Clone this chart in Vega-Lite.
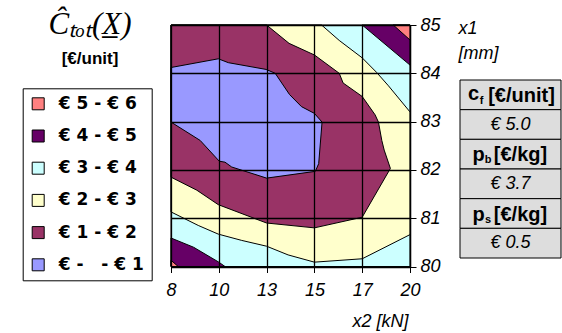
{
  "$schema": "https://vega.github.io/schema/vega-lite/v6.json",
  "width": 239,
  "height": 241.5,
  "autosize": {"type": "none"},
  "padding": {"left": 171, "top": 25, "right": 152, "bottom": 66.5},
  "background": "white",
  "config": {"view": {"stroke": null}},
  "title": {
    "text": "Ĉₜₒₜ(X̲)",
    "subtitle": "[\u20ac/unit]",
    "anchor": "start",
    "frame": "group",
    "align": "center",
    "dx": -81,
    "dy": 52,
    "offset": 0,
    "font": "Liberation Serif",
    "fontStyle": "italic",
    "fontWeight": "normal",
    "fontSize": 31,
    "color": "black",
    "subtitleFont": "Liberation Sans",
    "subtitleFontWeight": "bold",
    "subtitleFontSize": 17,
    "subtitleColor": "black",
    "subtitlePadding": 10
  },
  "datasets": {
    "poly": [
      {"poly": "base", "band": "\u20ac 3 - \u20ac 4", "i": 0, "x": 0, "y": 80},
      {"poly": "base", "band": "\u20ac 3 - \u20ac 4", "i": 1, "x": 5, "y": 80},
      {"poly": "base", "band": "\u20ac 3 - \u20ac 4", "i": 2, "x": 5, "y": 85},
      {"poly": "base", "band": "\u20ac 3 - \u20ac 4", "i": 3, "x": 0, "y": 85},
      {"poly": "base", "band": "\u20ac 3 - \u20ac 4", "i": 4, "x": 0, "y": 80},

      {"poly": "tr4", "band": "\u20ac 4 - \u20ac 5", "i": 0, "x": 4.0, "y": 85},
      {"poly": "tr4", "band": "\u20ac 4 - \u20ac 5", "i": 1, "x": 5, "y": 85},
      {"poly": "tr4", "band": "\u20ac 4 - \u20ac 5", "i": 2, "x": 5, "y": 84.17},
      {"poly": "tr4", "band": "\u20ac 4 - \u20ac 5", "i": 3, "x": 4.0, "y": 85},

      {"poly": "tr5", "band": "\u20ac 5 - \u20ac 6", "i": 0, "x": 4.65, "y": 85},
      {"poly": "tr5", "band": "\u20ac 5 - \u20ac 6", "i": 1, "x": 5, "y": 85},
      {"poly": "tr5", "band": "\u20ac 5 - \u20ac 6", "i": 2, "x": 5, "y": 84.69},
      {"poly": "tr5", "band": "\u20ac 5 - \u20ac 6", "i": 3, "x": 4.65, "y": 85},

      {"poly": "bl4", "band": "\u20ac 4 - \u20ac 5", "i": 0, "x": 0, "y": 80},
      {"poly": "bl4", "band": "\u20ac 4 - \u20ac 5", "i": 1, "x": 0, "y": 80.59},
      {"poly": "bl4", "band": "\u20ac 4 - \u20ac 5", "i": 2, "x": 0.47, "y": 80.4},
      {"poly": "bl4", "band": "\u20ac 4 - \u20ac 5", "i": 3, "x": 1.0, "y": 80.09},
      {"poly": "bl4", "band": "\u20ac 4 - \u20ac 5", "i": 4, "x": 1.13, "y": 80},
      {"poly": "bl4", "band": "\u20ac 4 - \u20ac 5", "i": 5, "x": 0, "y": 80},

      {"poly": "bl5", "band": "\u20ac 5 - \u20ac 6", "i": 0, "x": 0, "y": 80},
      {"poly": "bl5", "band": "\u20ac 5 - \u20ac 6", "i": 1, "x": 0, "y": 80.13},
      {"poly": "bl5", "band": "\u20ac 5 - \u20ac 6", "i": 2, "x": 0.15, "y": 80},
      {"poly": "bl5", "band": "\u20ac 5 - \u20ac 6", "i": 3, "x": 0, "y": 80},

      {"poly": "y", "band": "\u20ac 2 - \u20ac 3", "i": 0, "x": 0, "y": 85},
      {"poly": "y", "band": "\u20ac 2 - \u20ac 3", "i": 1, "x": 3.15, "y": 85},
      {"poly": "y", "band": "\u20ac 2 - \u20ac 3", "i": 2, "x": 3.52, "y": 84.68},
      {"poly": "y", "band": "\u20ac 2 - \u20ac 3", "i": 3, "x": 4.0, "y": 84.32},
      {"poly": "y", "band": "\u20ac 2 - \u20ac 3", "i": 4, "x": 4.3, "y": 84.02},
      {"poly": "y", "band": "\u20ac 2 - \u20ac 3", "i": 5, "x": 4.55, "y": 83.74},
      {"poly": "y", "band": "\u20ac 2 - \u20ac 3", "i": 6, "x": 5, "y": 83.2},
      {"poly": "y", "band": "\u20ac 2 - \u20ac 3", "i": 7, "x": 5, "y": 80.66},
      {"poly": "y", "band": "\u20ac 2 - \u20ac 3", "i": 8, "x": 4.0, "y": 80.16},
      {"poly": "y", "band": "\u20ac 2 - \u20ac 3", "i": 9, "x": 3.0, "y": 80.09},
      {"poly": "y", "band": "\u20ac 2 - \u20ac 3", "i": 10, "x": 2.45, "y": 80.24},
      {"poly": "y", "band": "\u20ac 2 - \u20ac 3", "i": 11, "x": 2.0, "y": 80.42},
      {"poly": "y", "band": "\u20ac 2 - \u20ac 3", "i": 12, "x": 1.48, "y": 80.54},
      {"poly": "y", "band": "\u20ac 2 - \u20ac 3", "i": 13, "x": 0.99, "y": 80.67},
      {"poly": "y", "band": "\u20ac 2 - \u20ac 3", "i": 14, "x": 0.57, "y": 80.85},
      {"poly": "y", "band": "\u20ac 2 - \u20ac 3", "i": 15, "x": 0, "y": 81.13},
      {"poly": "y", "band": "\u20ac 2 - \u20ac 3", "i": 16, "x": 0, "y": 85},

      {"poly": "m", "band": "\u20ac 1 - \u20ac 2", "i": 0, "x": 0, "y": 85},
      {"poly": "m", "band": "\u20ac 1 - \u20ac 2", "i": 1, "x": 2.0, "y": 85},
      {"poly": "m", "band": "\u20ac 1 - \u20ac 2", "i": 2, "x": 2.47, "y": 84.62},
      {"poly": "m", "band": "\u20ac 1 - \u20ac 2", "i": 3, "x": 2.91, "y": 84.42},
      {"poly": "m", "band": "\u20ac 1 - \u20ac 2", "i": 4, "x": 3.0, "y": 84.38},
      {"poly": "m", "band": "\u20ac 1 - \u20ac 2", "i": 5, "x": 3.52, "y": 84.0},
      {"poly": "m", "band": "\u20ac 1 - \u20ac 2", "i": 6, "x": 3.6, "y": 83.8},
      {"poly": "m", "band": "\u20ac 1 - \u20ac 2", "i": 7, "x": 4.0, "y": 83.52},
      {"poly": "m", "band": "\u20ac 1 - \u20ac 2", "i": 8, "x": 4.27, "y": 83.14},
      {"poly": "m", "band": "\u20ac 1 - \u20ac 2", "i": 9, "x": 4.34, "y": 82.99},
      {"poly": "m", "band": "\u20ac 1 - \u20ac 2", "i": 10, "x": 4.41, "y": 82.61},
      {"poly": "m", "band": "\u20ac 1 - \u20ac 2", "i": 11, "x": 4.46, "y": 82.41},
      {"poly": "m", "band": "\u20ac 1 - \u20ac 2", "i": 12, "x": 4.59, "y": 82.03},
      {"poly": "m", "band": "\u20ac 1 - \u20ac 2", "i": 13, "x": 4.0, "y": 81.02},
      {"poly": "m", "band": "\u20ac 1 - \u20ac 2", "i": 14, "x": 3.0, "y": 80.8},
      {"poly": "m", "band": "\u20ac 1 - \u20ac 2", "i": 15, "x": 2.0, "y": 80.9},
      {"poly": "m", "band": "\u20ac 1 - \u20ac 2", "i": 16, "x": 0.99, "y": 81.28},
      {"poly": "m", "band": "\u20ac 1 - \u20ac 2", "i": 17, "x": 0.54, "y": 81.58},
      {"poly": "m", "band": "\u20ac 1 - \u20ac 2", "i": 18, "x": 0, "y": 81.85},
      {"poly": "m", "band": "\u20ac 1 - \u20ac 2", "i": 19, "x": 0, "y": 85},

      {"poly": "b", "band": "\u20ac -\u00a0\u00a0\u00a0- \u20ac 1", "i": 0, "x": 0, "y": 84.12},
      {"poly": "b", "band": "\u20ac -\u00a0\u00a0\u00a0- \u20ac 1", "i": 1, "x": 0.99, "y": 84.3},
      {"poly": "b", "band": "\u20ac -\u00a0\u00a0\u00a0- \u20ac 1", "i": 2, "x": 1.2, "y": 84.22},
      {"poly": "b", "band": "\u20ac -\u00a0\u00a0\u00a0- \u20ac 1", "i": 3, "x": 1.99, "y": 84.08},
      {"poly": "b", "band": "\u20ac -\u00a0\u00a0\u00a0- \u20ac 1", "i": 4, "x": 2.18, "y": 84.0},
      {"poly": "b", "band": "\u20ac -\u00a0\u00a0\u00a0- \u20ac 1", "i": 5, "x": 2.48, "y": 83.56},
      {"poly": "b", "band": "\u20ac -\u00a0\u00a0\u00a0- \u20ac 1", "i": 6, "x": 2.73, "y": 83.31},
      {"poly": "b", "band": "\u20ac -\u00a0\u00a0\u00a0- \u20ac 1", "i": 7, "x": 3.0, "y": 83.17},
      {"poly": "b", "band": "\u20ac -\u00a0\u00a0\u00a0- \u20ac 1", "i": 8, "x": 3.16, "y": 82.99},
      {"poly": "b", "band": "\u20ac -\u00a0\u00a0\u00a0- \u20ac 1", "i": 9, "x": 3.09, "y": 82.13},
      {"poly": "b", "band": "\u20ac -\u00a0\u00a0\u00a0- \u20ac 1", "i": 10, "x": 3.02, "y": 81.97},
      {"poly": "b", "band": "\u20ac -\u00a0\u00a0\u00a0- \u20ac 1", "i": 11, "x": 2.0, "y": 81.83},
      {"poly": "b", "band": "\u20ac -\u00a0\u00a0\u00a0- \u20ac 1", "i": 12, "x": 1.27, "y": 82.06},
      {"poly": "b", "band": "\u20ac -\u00a0\u00a0\u00a0- \u20ac 1", "i": 13, "x": 1.13, "y": 82.16},
      {"poly": "b", "band": "\u20ac -\u00a0\u00a0\u00a0- \u20ac 1", "i": 14, "x": 1.01, "y": 82.18},
      {"poly": "b", "band": "\u20ac -\u00a0\u00a0\u00a0- \u20ac 1", "i": 15, "x": 0.61, "y": 82.61},
      {"poly": "b", "band": "\u20ac -\u00a0\u00a0\u00a0- \u20ac 1", "i": 16, "x": 0, "y": 82.99},
      {"poly": "b", "band": "\u20ac -\u00a0\u00a0\u00a0- \u20ac 1", "i": 17, "x": 0, "y": 84.12}
    ],
    "table": [
      {"col": "t", "row": "h1", "kind": "head", "sym": "c", "sub": "f", "unit": "[\u20ac/unit]", "label": ""},
      {"col": "t", "row": "v1", "kind": "val", "sym": "", "sub": "", "unit": "", "label": "\u20ac 5.0"},
      {"col": "t", "row": "h2", "kind": "head", "sym": "p", "sub": "b", "unit": "[\u20ac/kg]", "label": ""},
      {"col": "t", "row": "v2", "kind": "val", "sym": "", "sub": "", "unit": "", "label": "\u20ac 3.7"},
      {"col": "t", "row": "h3", "kind": "head", "sym": "p", "sub": "s", "unit": "[\u20ac/kg]", "label": ""},
      {"col": "t", "row": "v3", "kind": "val", "sym": "", "sub": "", "unit": "", "label": "\u20ac 0.5"}
    ]
  },
  "layer": [
    {
      "data": {"name": "poly"},
      "encoding": {
        "x": {
          "field": "x", "type": "quantitative",
          "scale": {"domain": [0, 5], "nice": false, "zero": false},
          "axis": {
            "values": [0, 1, 2, 3, 4, 5],
            "labelExpr": "['8','10','13','15','17','20'][datum.value]",
            "grid": true, "gridColor": "black", "gridOpacity": 1, "gridWidth": 1.3,
            "domainColor": "black", "domainWidth": 1.3,
            "tickColor": "black", "tickSize": 6, "tickWidth": 1,
            "labelFont": "Liberation Sans", "labelFontStyle": "italic", "labelFontSize": 18,
            "labelColor": "black", "labelPadding": 9, "labelFlush": false, "labelOverlap": false,
            "title": "x2 [kN]", "titleFont": "Liberation Sans", "titleFontStyle": "italic",
            "titleFontWeight": "normal", "titleFontSize": 18, "titleColor": "black",
            "titleAnchor": "end", "titleAlign": "right", "titleBaseline": "alphabetic",
            "titleX": 237, "titleY": 60,
            "zindex": 1
          }
        },
        "y": {
          "field": "y", "type": "quantitative",
          "scale": {"domain": [80, 85], "nice": false, "zero": false},
          "axis": {
            "orient": "right",
            "values": [80, 81, 82, 83, 84, 85], "format": "d",
            "grid": true, "gridColor": "black", "gridOpacity": 1, "gridWidth": 1.3,
            "domainColor": "black", "domainWidth": 1.3,
            "tickColor": "black", "tickSize": 6, "tickWidth": 1,
            "labelFont": "Liberation Sans", "labelFontStyle": "italic", "labelFontSize": 18,
            "labelColor": "black", "labelPadding": 4, "labelFlush": false, "labelOverlap": false,
            "title": ["x1", "[mm]"], "titleFont": "Liberation Sans", "titleFontStyle": "italic",
            "titleFontWeight": "normal", "titleFontSize": 18, "titleColor": "black",
            "titleAngle": 0, "titleAlign": "left", "titleBaseline": "alphabetic",
            "titleX": 48, "titleY": 8.5, "titleLineHeight": 24.5,
            "zindex": 1
          }
        },
        "order": {"field": "i", "type": "quantitative"},
        "fill": {
          "field": "band", "type": "nominal",
          "scale": {
            "domain": ["\u20ac 5 - \u20ac 6", "\u20ac 4 - \u20ac 5", "\u20ac 3 - \u20ac 4", "\u20ac 2 - \u20ac 3", "\u20ac 1 - \u20ac 2", "\u20ac -\u00a0\u00a0\u00a0- \u20ac 1"],
            "range": ["#FF8080", "#660066", "#CCFFFF", "#FFFFCC", "#993366", "#9999FF"]
          },
          "legend": {
            "orient": "none", "legendX": -148.3, "legendY": 63.3,
            "title": null, "symbolType": "square", "symbolSize": 144,
            "symbolStrokeColor": "black", "symbolStrokeWidth": 1, "symbolOpacity": 1,
            "labelFont": "DejaVu Sans", "labelFontWeight": "bold", "labelFontSize": 17,
            "labelColor": "black", "labelOffset": 12, "rowPadding": 14.2,
            "padding": 7, "strokeColor": "black", "fillColor": "white"
          }
        }
      },
      "layer": [
        {"transform": [{"filter": "datum.poly == 'base'"}], "mark": {"type": "line", "filled": true, "stroke": "black", "strokeWidth": 1}},
        {"transform": [{"filter": "datum.poly == 'tr4'"}], "mark": {"type": "line", "filled": true, "stroke": "black", "strokeWidth": 1}},
        {"transform": [{"filter": "datum.poly == 'tr5'"}], "mark": {"type": "line", "filled": true, "stroke": "black", "strokeWidth": 1}},
        {"transform": [{"filter": "datum.poly == 'bl4'"}], "mark": {"type": "line", "filled": true, "stroke": "black", "strokeWidth": 1}},
        {"transform": [{"filter": "datum.poly == 'bl5'"}], "mark": {"type": "line", "filled": true, "stroke": "black", "strokeWidth": 1}},
        {"transform": [{"filter": "datum.poly == 'y'"}], "mark": {"type": "line", "filled": true, "stroke": "black", "strokeWidth": 1}},
        {"transform": [{"filter": "datum.poly == 'm'"}], "mark": {"type": "line", "filled": true, "stroke": "black", "strokeWidth": 1}},
        {"transform": [{"filter": "datum.poly == 'b'"}], "mark": {"type": "line", "filled": true, "stroke": "black", "strokeWidth": 1}}
      ]
    },
    {
      "data": {"name": "table"},
      "encoding": {
        "x": {"field": "col", "type": "nominal", "scale": {"range": [289, 390], "paddingInner": 0, "paddingOuter": 0}, "axis": null},
        "y": {"field": "row", "type": "nominal", "sort": null, "scale": {"domain": ["h1", "v1", "h2", "v2", "h3", "v3"], "range": [55, 233], "paddingInner": 0, "paddingOuter": 0}, "axis": null}
      },
      "layer": [
        {"mark": {"type": "rect", "fill": "#DDDDDD", "stroke": "black", "strokeWidth": 1}},
        {"transform": [{"filter": "datum.row == 'h1'"}], "mark": {"type": "text", "font": "Liberation Sans", "fontWeight": "bold", "fontSize": 20, "fill": "black", "align": "center", "dx": -37, "dy": -1}, "encoding": {"text": {"field": "sym"}}},
        {"transform": [{"filter": "datum.row == 'h2' || datum.row == 'h3'"}], "mark": {"type": "text", "font": "Liberation Sans", "fontWeight": "bold", "fontSize": 20, "fill": "black", "align": "center", "dx": -32, "dy": 1}, "encoding": {"text": {"field": "sym"}}},
        {"transform": [{"filter": "datum.row == 'h1'"}], "mark": {"type": "text", "font": "Liberation Sans", "fontWeight": "bold", "fontSize": 11, "fill": "black", "align": "center", "dx": -29, "dy": 6}, "encoding": {"text": {"field": "sub"}}},
        {"transform": [{"filter": "datum.row == 'h2' || datum.row == 'h3'"}], "mark": {"type": "text", "font": "Liberation Sans", "fontWeight": "bold", "fontSize": 11, "fill": "black", "align": "center", "dx": -22.5, "dy": 6}, "encoding": {"text": {"field": "sub"}}},
        {"transform": [{"filter": "datum.row == 'h1'"}], "mark": {"type": "text", "font": "Liberation Sans", "fontWeight": "bold", "fontSize": 20, "fill": "black", "align": "center", "dx": 11, "dy": 1}, "encoding": {"text": {"field": "unit"}}},
        {"transform": [{"filter": "datum.row == 'h2' || datum.row == 'h3'"}], "mark": {"type": "text", "font": "Liberation Sans", "fontWeight": "bold", "fontSize": 20, "fill": "black", "align": "center", "dx": 10, "dy": 1}, "encoding": {"text": {"field": "unit"}}},
        {"transform": [{"filter": "datum.kind == 'val'"}], "mark": {"type": "text", "font": "Liberation Sans", "fontStyle": "italic", "fontSize": 18, "fill": "black"}, "encoding": {"text": {"field": "label"}}}
      ]
    }
  ],
  "resolve": {"scale": {"x": "independent", "y": "independent"}, "axis": {"x": "independent", "y": "independent"}}
}
